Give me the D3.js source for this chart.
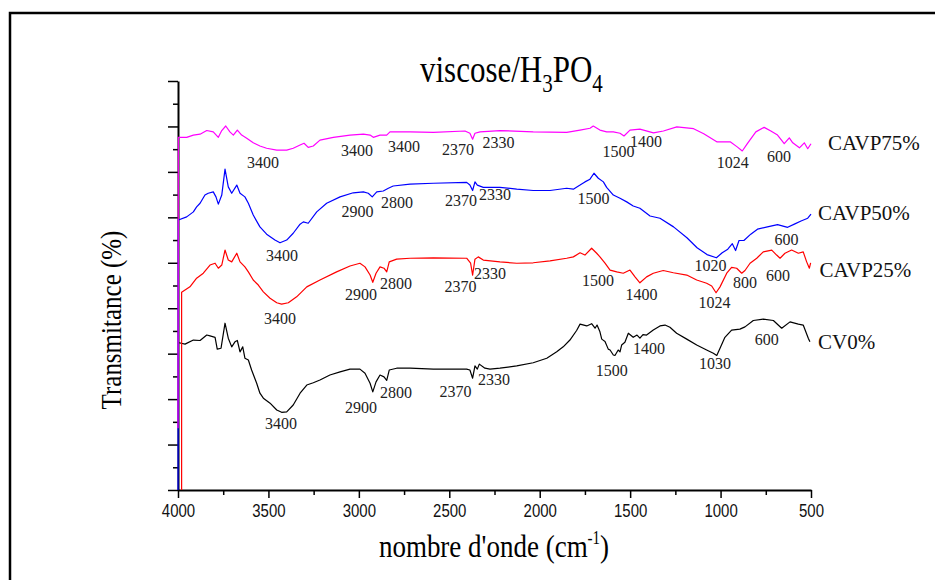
<!DOCTYPE html>
<html>
<head>
<meta charset="utf-8">
<script src="https://cdn.jsdelivr.net/npm/d3@7"></script>
<style>
  body { margin: 0; background: #fff; }
  svg { display: block; }
</style>
</head>
<body>
<svg id="chart" width="935" height="580"></svg>
<script>
// FTIR spectra, wavenumber (cm-1) / transmittance (arbitrary offset units)
const cv0Wave = [3994,3961,3915,3878,3841,3823,3795,3783,3762,3740,3722,3703,3685,3672,3657,3642,3630,3611,3593,3565,3547,3528,3491,3454,3427,3399,3363,3325,3288,3252,3215,3160,3104,3049,2994,2966,2938,2923,2905,2883,2861,2846,2832,2791,2717,2588,2404,2386,2371,2358,2345,2334,2303,2275,2220,2127,2036,1961,1906,1870,1833,1796,1777,1740,1713,1694,1683,1667,1657,1639,1621,1611,1593,1584,1566,1556,1547,1529,1510,1483,1462,1446,1429,1409,1372,1335,1307,1280,1243,1187,1132,1077,1040,1021,1003,976,939,893,865,819,764,708,662,616,570,543,515,506];
const cv0Trans = [32.4,32.1,33.0,32.9,34.1,33.9,33.6,31.0,31.2,36.7,33.4,31.5,32.6,32.9,30.4,31.5,29.0,28.6,26.4,23.5,21.3,20.2,19.1,17.6,17.1,17.2,18.7,21.3,23.1,23.6,24.2,25.3,26.0,26.6,26.6,25.7,23.5,21.6,23.8,25.3,24.9,24.1,26.4,26.8,26.8,26.6,26.6,26.4,24.6,27.3,26.6,27.7,26.8,26.6,26.8,27.3,28.0,29.0,30.4,31.5,33.0,35.1,36.5,36.1,36.6,35.6,36.3,34.8,33.2,32.7,31.0,30.8,29.7,29.6,30.8,30.4,31.9,32.5,34.5,33.6,34.1,33.4,34.2,34.1,35.2,36.1,36.3,35.8,34.5,33.2,31.9,30.8,30.1,29.6,31.2,33.6,35.2,35.4,35.9,37.3,37.6,37.3,35.6,37.0,36.5,36.3,33.4,32.6];

const cavp25Wave = [3980,3980,3934,3897,3860,3823,3795,3777,3758,3740,3722,3703,3675,3657,3630,3611,3584,3556,3528,3491,3454,3427,3390,3344,3288,3215,3123,3049,2994,2966,2938,2923,2905,2883,2861,2846,2832,2791,2717,2588,2404,2382,2371,2358,2340,2312,2220,2127,2036,1943,1851,1814,1777,1750,1713,1685,1667,1639,1611,1574,1538,1501,1473,1446,1409,1372,1317,1261,1187,1132,1077,1049,1025,1003,966,939,911,883,865,837,800,764,717,690,671,644,607,570,543,524,509,502];
const cavp25Trans = [-5,43.5,44.7,46.6,47.7,49.5,49.9,48.8,49.5,52.8,50.6,50.2,52.1,50.2,49.1,48.0,46.2,45.1,43.6,42.2,41.2,40.9,41.2,42.5,44.7,46.2,48.0,49.3,49.9,49.1,47.3,45.7,47.7,49.1,48.8,48.0,50.2,50.8,51.0,51.1,51.0,49.9,47.3,50.8,51.3,50.6,50.2,49.9,50.0,50.4,51.0,51.3,52.2,51.7,53.2,52.1,51.3,49.9,48.4,48.0,47.7,48.4,46.9,45.6,46.9,47.7,48.3,47.8,47.3,46.2,45.5,44.9,43.4,44.7,47.7,49.0,48.8,47.7,48.3,49.9,51.0,52.4,52.8,51.7,51.0,52.1,52.8,52.1,52.4,50.2,48.8,50.0];

const cavp50Wave = [4000,3998,3952,3915,3897,3878,3851,3833,3805,3790,3777,3758,3740,3722,3703,3675,3657,3630,3611,3584,3547,3510,3464,3436,3399,3363,3325,3307,3280,3233,3178,3104,3031,2975,2948,2926,2901,2865,2837,2810,2717,2588,2404,2386,2371,2358,2345,2312,2220,2127,2036,1943,1851,1814,1777,1750,1722,1700,1676,1648,1630,1593,1556,1519,1483,1446,1390,1335,1260,1186,1130,1075,1023,991,960,935,917,898,871,833,796,741,685,629,592,555,518,500];
const cavp50Trans = [-5,59.4,60.1,61.2,62.3,63.1,64.9,65.3,65.6,64.5,62.9,64.9,70.6,66.7,65.3,67.1,65.3,64.5,63.1,60.5,57.9,56.3,55.0,54.4,55.0,56.5,58.5,59.0,58.7,61.2,63.1,64.5,65.4,65.6,65.3,64.5,65.6,65.8,66.4,66.9,67.3,67.5,67.7,67.1,65.9,67.8,67.1,66.6,66.6,66.2,65.9,65.9,66.4,66.2,67.1,67.8,68.4,69.7,68.6,67.8,66.6,64.9,64.2,63.4,62.5,62.0,60.3,59.8,57.9,55.5,53.3,51.8,51.1,52.2,53.0,54.2,52.7,54.9,54.9,56.3,57.4,57.9,58.4,57.8,58.5,59.2,59.8,60.7];

const cavp75Wave = [4000,3998,3952,3915,3878,3841,3805,3777,3758,3736,3713,3694,3672,3648,3620,3584,3547,3510,3454,3399,3363,3325,3303,3280,3252,3215,3141,3049,2975,2938,2920,2883,2846,2828,2717,2588,2413,2386,2371,2358,2330,2220,2036,1851,1777,1722,1704,1667,1630,1593,1556,1534,1501,1446,1371,1316,1242,1149,1093,1019,945,908,880,852,805,759,722,685,648,620,601,564,537,518,500];
const cavp75Trans = [13.6,77.6,77.6,78.1,78.3,79.1,78.8,77.6,79.1,80.1,78.8,78.1,79.2,78.1,77.4,76.4,75.7,75.2,74.8,74.8,75.2,75.9,76.3,75.4,75.7,77.0,77.6,78.1,78.3,78.1,77.6,78.1,78.1,78.8,78.8,78.7,79.0,78.5,77.2,78.5,78.8,79.1,78.8,78.7,79.2,79.6,80.1,79.2,78.8,78.8,78.5,77.9,79.2,79.4,78.6,79.0,79.9,79.5,78.4,76.6,76.6,75.5,74.6,76.2,78.8,79.8,79.0,78.1,76.2,77.5,76.4,75.3,76.4,75.1,76.2];

const seriesNames = ['CV0%', 'CAVP25%', 'CAVP50%', 'CAVP75%'];
const seriesColors = ['#000000', '#ff0000', '#0000ff', '#ff00ff'];
// where each name sits, in wavenumber / transmittance
const nameWave = [461, 453, 461, 406];
const nameTrans = [31.0, 46.9, 59.4, 74.8];

// band labels: [text, wavenumber, transmittance]
const peaksCV0 = [['3400',3431,13.4],['2900',2988,17.0],['2800',2795,20.2],['2370',2466,20.5],['2330',2253,23.1],['1500',1602,25.1],['1400',1396,29.9],['1030',1031,26.6],['600',745,31.9]];
const peaksCAVP25 = [['3400',3436,36.5],['2900',2988,41.7],['2800',2795,44.2],['2370',2438,43.6],['2330',2275,46.4],['1500',1678,45.0],['1400',1437,41.8],['1024',1033,40.0],['800',865,44.4],['600',683,46.1]];
const peaksCAVP50 = [['3400',3425,50.4],['2900',3008,60.1],['2800',2789,62.0],['2370',2435,62.5],['2330',2247,63.8],['1500',1703,62.9],['1020',1056,48.3],['600',636,53.9]];
const peaksCAVP75 = [['3400',3530,70.9],['3400',3010,73.5],['3400',2750,74.4],['2370',2452,73.7],['2330',2228,75.2],['1500',1564,73.2],['1400',1412,75.5],['1024',933,70.8],['600',677,72.2]];

const xMajor = [4000,3500,3000,2500,2000,1500,1000,500];
const xMinor = [3750,3250,2750,2250,1750,1250,750];
const yMajor = [0,10,20,30,40,50,60,70,80,90];
const yMinor = [5,15,25,35,45,55,65,75,85];

function main() {
    const svg = d3.select('#chart');

    // outer frame
    svg.append('rect')
        .attr('x', 10).attr('y', 13)
        .attr('width', 1000).attr('height', 1000)
        .attr('fill', 'none')
        .attr('stroke', '#000')
        .attr('stroke-width', 2.5);

    const x = d3.scaleLinear().domain([4000, 500]).range([178, 811]);
    const y = d3.scaleLinear().domain([0, 90]).range([490, 81]);

    // axes
    const gx = svg.append('g').attr('transform', 'translate(0,490)')
        .call(d3.axisBottom(x).tickValues(xMajor).tickSize(8).tickSizeOuter(0).tickFormat(d3.format('d')));
    svg.append('g').attr('transform', 'translate(0,490)')
        .call(d3.axisBottom(x).tickValues(xMinor).tickSize(5).tickFormat(''))
        .select('.domain').remove();
    gx.selectAll('text')
        .attr('y', 0).attr('dy', 0)
        .attr('transform', 'translate(0,27) scale(1,1.18)')
        .attr('font-family', 'Liberation Sans, Arial, sans-serif')
        .attr('font-size', 15)
        .attr('fill', '#111');

    svg.append('g').attr('transform', 'translate(178,0)')
        .call(d3.axisLeft(y).tickValues(yMajor).tickSize(10).tickSizeOuter(0).tickFormat(''));
    svg.append('g').attr('transform', 'translate(178,0)')
        .call(d3.axisLeft(y).tickValues(yMinor).tickSize(5).tickFormat(''))
        .select('.domain').remove();

    svg.selectAll('.domain').attr('stroke-width', 2);
    svg.selectAll('.tick line').attr('stroke-width', 1.5);

    // curves
    svg.append('clipPath').attr('id', 'plotClip')
        .append('rect').attr('x', 170).attr('y', 60).attr('width', 650).attr('height', 430);

    const line = d3.line().x(d => x(d[0])).y(d => y(d[1]));
    const waves = [cv0Wave, cavp25Wave, cavp50Wave, cavp75Wave];
    const trans = [cv0Trans, cavp25Trans, cavp50Trans, cavp75Trans];
    const peaks = [peaksCV0, peaksCAVP25, peaksCAVP50, peaksCAVP75];

    const curves = svg.append('g').attr('clip-path', 'url(#plotClip)');
    waves.forEach(function(w, i) {
        curves.append('path')
            .datum(d3.zip(w, trans[i]))
            .attr('fill', 'none')
            .attr('stroke', seriesColors[i])
            .attr('stroke-width', 1.2)
            .attr('stroke-linejoin', 'round')
            .attr('d', line);
    });

    // band labels
    peaks.forEach(function(list) {
        svg.append('g').selectAll('text')
            .data(list)
            .enter().append('text')
            .attr('x', d => x(d[1]))
            .attr('y', d => y(d[2]))
            .attr('text-anchor', 'middle')
            .attr('font-family', 'Liberation Serif, Times New Roman, serif')
            .attr('font-size', 16)
            .attr('fill', '#222')
            .text(d => d[0]);
    });

    // series names
    seriesNames.forEach(function(name, i) {
        svg.append('text')
            .attr('x', x(nameWave[i]))
            .attr('y', y(nameTrans[i]))
            .attr('font-family', 'Liberation Serif, Times New Roman, serif')
            .attr('font-size', 21)
            .attr('fill', '#111')
            .text(name);
    });

    // title
    const title = svg.append('text')
        .attr('transform', 'translate(420,82) scale(1,1.2)')
        .attr('font-family', 'Liberation Serif, Times New Roman, serif')
        .attr('font-size', 31)
        .attr('fill', '#000');
    title.append('tspan').text('viscose/H');
    title.append('tspan').attr('dy', 8).attr('font-size', 21).text('3');
    title.append('tspan').attr('dy', -8).text('PO');
    title.append('tspan').attr('dy', 8).attr('font-size', 21).text('4');

    // axis titles
    const xt = svg.append('text')
        .attr('transform', 'translate(494,557) scale(1,1.2)')
        .attr('text-anchor', 'middle')
        .attr('font-family', 'Liberation Serif, Times New Roman, serif')
        .attr('font-size', 27)
        .attr('fill', '#000');
    xt.append('tspan').text("nombre d'onde (cm");
    xt.append('tspan').attr('dy', -11).attr('font-size', 15).text('-1');
    xt.append('tspan').attr('dy', 11).text(')');

    svg.append('text')
        .attr('transform', 'translate(121,320) rotate(-90) scale(1,1.15)')
        .attr('text-anchor', 'middle')
        .attr('font-family', 'Liberation Serif, Times New Roman, serif')
        .attr('font-size', 25)
        .attr('fill', '#000')
        .text('Transmitance (%)');
}

main();
</script>
</body>
</html>
